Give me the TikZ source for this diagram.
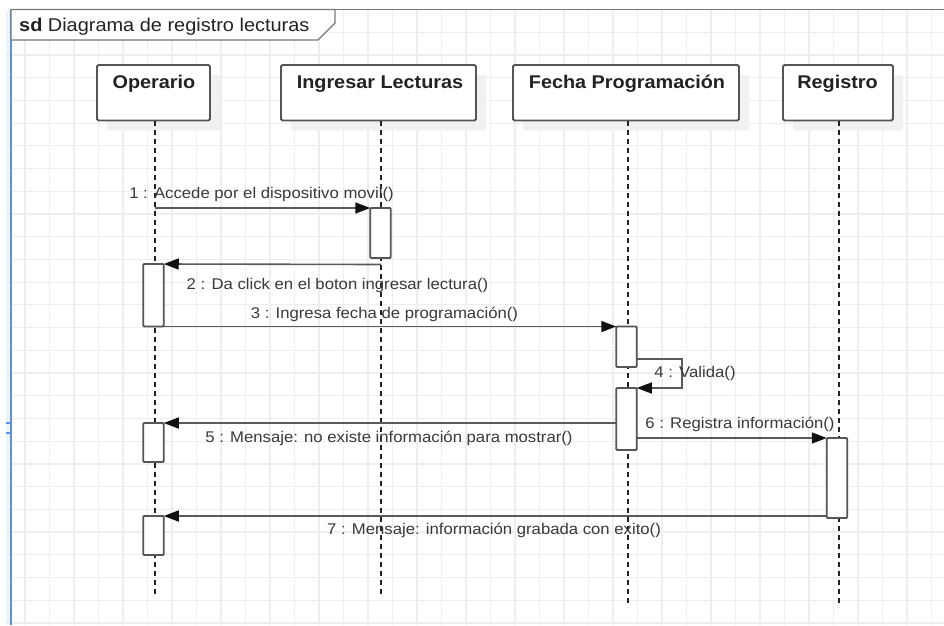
\documentclass[tikz,border=0pt]{standalone}
\usepackage{graphicx}
\usepackage{fontspec}
\setmainfont{Liberation Sans}
\usetikzlibrary{arrows.meta,shadows}

\definecolor{gridc}{HTML}{EEEEEE}
\definecolor{framec}{HTML}{777777}
\definecolor{boxc}{HTML}{555555}
\definecolor{shadowc}{HTML}{F1F1F1}
\definecolor{msgc}{HTML}{5A5A5A}
\definecolor{tipc}{HTML}{111111}
\definecolor{lifec}{HTML}{222222}
\definecolor{headc}{HTML}{222222}
\definecolor{labc}{HTML}{3A3A3A}
\definecolor{selblue}{HTML}{5C8FE6}
\definecolor{selband}{HTML}{EEF4FD}

% slightly widened text, as set by the modelling tool
\newcommand{\wide}[1]{\scalebox{1.078}[1]{#1}}

\tikzset{
  gridline/.style={draw=gridc, line width=1.2pt},
  lifebox/.style={draw=boxc, line width=1.8pt, fill=white, rounded corners=1.5pt,
    inner sep=0pt, outer sep=0pt, minimum height=55.5pt,
    drop shadow={shadow xshift=10pt, shadow yshift=-10pt, fill=shadowc, opacity=1}},
  headtext/.style={inner sep=0pt, anchor=base, text=headc,
    font=\fontsize{18.4}{20}\selectfont\bfseries},
  lifeline/.style={draw=lifec, line width=1.4pt, dash pattern=on 5pt off 4pt},
  actbox/.style={draw=boxc, line width=1.8pt, fill=white, rounded corners=1pt,
    inner sep=0pt, outer sep=0pt, minimum width=20.5pt},
  msg/.style={draw=msgc, line width=1.6pt,
    -{Triangle[length=15pt,width=11pt,fill=tipc,color=tipc]}},
  msglabel/.style={inner sep=0pt, anchor=base, text=labc,
    font=\fontsize{15.5}{17}\selectfont},
}

\begin{document}
\begin{tikzpicture}[x=1pt,y=-1pt]
\useasboundingbox (0,0) rectangle (944,625);
\fill[white] (0,0) rectangle (944,625);

% background grid
\fill[selband] (6,9.5) rectangle (11,625);
\foreach \i in {1,...,38}
  \draw[gridline] (0.5+24.5*\i,9.5) -- (0.5+24.5*\i,625);
\foreach \j in {1,...,27}
  \draw[gridline] (6,9.5+22.72*\j) -- (944,9.5+22.72*\j);

% frame of the interaction
\draw[framec, line width=1.3pt] (11,9.5) -- (944,9.5);
\draw[selblue, line width=2.2pt] (11,9.5) -- (11,625);
\draw[selblue, line width=1.3pt] (6,423) -- (11,423);
\draw[selblue, line width=1.3pt] (6,433) -- (11,433);
\draw[framec, line width=1.3pt, fill=white]
  (11,9.5) -- (335,9.5) -- (335,23) -- (318,40) -- (11,40) -- cycle;
\node[inner sep=0pt, anchor=base west, text=headc, font=\fontsize{18.5}{20}\selectfont]
  (title) at (19,31) {\wide{\textbf{sd}\hspace{5pt}Diagrama de registro lecturas}};

% lifeline heads
\node[lifebox, minimum width=113pt] (op)  at (153.5,92.75) {};
\node[lifebox, minimum width=195pt] (ing) at (378.5,92.75) {};
\node[lifebox, minimum width=226pt] (fe)  at (626,92.75) {};
\node[lifebox, minimum width=110pt] (reg) at (838,92.75) {};

\node[headtext] (opT)  at (154,88)   {\wide{Operario}};
\node[headtext] (ingT) at (380,88)   {\wide{Ingresar Lecturas}};
\node[headtext] (feT)  at (627,88)   {\wide{Fecha Programación}};
\node[headtext] (regT) at (837.5,88) {\wide{Registro}};

% lifelines
\coordinate (opTop)  at (155,121);  \coordinate (opEnd)  at (155,594);
\coordinate (ingTop) at (381,121);  \coordinate (ingEnd) at (381,594);
\coordinate (feTop)  at (628,121);  \coordinate (feEnd)  at (628,607);
\coordinate (regTop) at (839,121);  \coordinate (regEnd) at (839,607);
\draw[lifeline] (opTop)  -- (opEnd);
\draw[lifeline] (ingTop) -- (ingEnd);
\draw[lifeline] (feTop)  -- (feEnd);
\draw[lifeline] (regTop) -- (regEnd);

% activation bars
\node[actbox, minimum height=50pt]   (aIng) at (380.5,233) {};
\node[actbox, minimum height=62.5pt] (aOp1) at (153.5,295.25) {};
\node[actbox, minimum height=40.5pt] (aFe1) at (626.5,346.75) {};
\node[actbox, minimum height=62pt]   (aFe2) at (626.5,419) {};
\node[actbox, minimum height=80pt]   (aReg) at (837,478) {};
\node[actbox, minimum height=39pt]   (aOp2) at (153.5,442.5) {};
\node[actbox, minimum height=39pt]   (aOp3) at (153.5,535.5) {};

% messages
\coordinate (m1s) at (155,208);
\draw[msg] (m1s) -- (aIng.north west);
\coordinate (m2s) at (381,264.5);
\draw[msg] (m2s) -- (aOp1.north east);
\draw[msg] (aOp1.south east) -- (aFe1.north west);
\coordinate (m4s) at (636.75,359);
\coordinate (m4a) at (682,359);
\coordinate (m4b) at (682,388);
\draw[msg] (m4s) -- (m4a) -- (m4b) -- (aFe2.north east);
\coordinate (m5s) at (616.25,423);
\draw[msg] (m5s) -- (aOp2.north east |- m5s);
\coordinate (m6s) at (636.75,438);
\draw[msg] (m6s) -- (aReg.north west);
\coordinate (m7s) at (826.75,516);
\draw[msg] (m7s) -- (aOp3.north east);

% message labels
\node[msglabel] (l1) at (261.5,198) {\wide{1 : Accede por el dispositivo movil()}};
\node[msglabel] (l2) at (337.5,289) {\wide{2 : Da click en el boton ingresar lectura()}};
\node[msglabel] (l3) at (384.5,318) {\wide{3 : Ingresa fecha de programación()}};
\node[msglabel] (l4) at (695,377)   {\wide{4 : Valida()}};
\node[msglabel] (l5) at (389,442)   {\wide{5 : Mensaje: no existe información para mostrar()}};
\node[msglabel] (l6) at (740,428)   {\wide{6 : Registra información()}};
\node[msglabel] (l7) at (494,534)   {\wide{7 : Mensaje: información grabada con exito()}};
\end{tikzpicture}
\end{document}
